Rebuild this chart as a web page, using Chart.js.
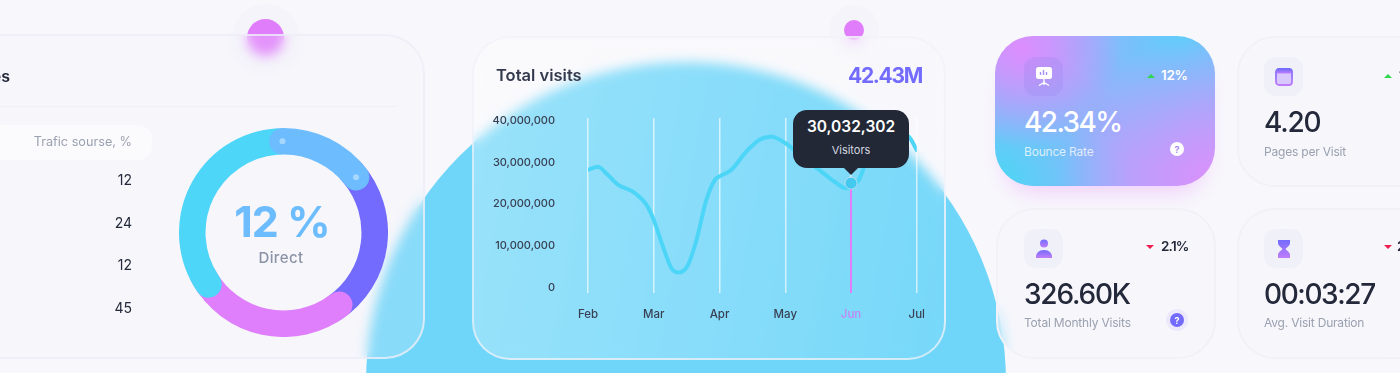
<!DOCTYPE html>
<html>
<head>
<meta charset="utf-8">
<title>Total visits</title>
<script src="https://cdn.jsdelivr.net/npm/chart.js"></script>
<style>
    * { box-sizing: border-box; }
    html, body { margin: 0; width: 1400px; height: 373px; overflow: hidden; background: #f8f8fc; font-family: Inter, sans-serif; color: #23283a; }
    .txt { position: absolute; white-space: nowrap; line-height: 1; }

    .blob { position: absolute; left: 366px; top: 62px; width: 640px; height: 640px; border-radius: 50%; background: #6fd6f9; }
    .halo { position: absolute; border-radius: 50%; background: rgba(235, 232, 248, .2); }
    .dot { position: absolute; border-radius: 50%; background: #e07dfb; }

    .glass { position: absolute; backdrop-filter: blur(6px); -webkit-backdrop-filter: blur(6px); }
    .card-left { left: -40px; top: 34px; width: 465px; height: 325px; border-radius: 40px; background: rgba(240, 240, 250, .2); border: 2px solid rgba(238, 238, 247, .8); }
    .card-main { left: 472px; top: 36px; width: 474px; height: 324px; border-radius: 38px; background: linear-gradient(100deg, rgba(255,255,255,.3), rgba(255,255,255,.06)); border: 2.5px solid rgba(240, 241, 248, .75); }
    .card-small { width: 220px; height: 151px; border-radius: 38px; background: rgba(243, 243, 250, .35); border: 2px solid #f1f1f8; }
    .card-bounce { position: absolute; left: 995px; top: 36px; width: 220px; height: 150px; border-radius: 38px; box-shadow: 0 16px 24px -12px rgba(224, 125, 251, .4);
        background:
            radial-gradient(circle at 12% 8%, #dc8dfd 0, rgba(220,141,253,0) 42%),
            radial-gradient(circle at 100% 100%, #dc90fc 0, rgba(220,144,252,0) 58%),
            radial-gradient(circle at 0 100%, #48d8f5 0, rgba(72,216,245,0) 52%),
            radial-gradient(circle at 85% 0, #5fcdfa 0, rgba(95,205,250,0) 55%),
            #9eacfb; }

    .divider { position: absolute; left: 0; top: 106px; width: 397px; height: 1px; background: #f0f0f7; }
    .pill { position: absolute; left: -30px; top: 125px; width: 182px; height: 35px; border-radius: 14px; background: rgba(255, 255, 255, .55); }

    .icon-box { position: absolute; width: 39px; height: 39px; border-radius: 12px; background: #f0f0f9; display: flex; align-items: center; justify-content: center; }
    .arrow { position: absolute; width: 0; height: 0; border-left: 4px solid transparent; border-right: 4px solid transparent; }
    .up { border-bottom: 4px solid #2fd84f; }
    .down { border-top: 4px solid #ee1f4e; }
    .help { position: absolute; border-radius: 50%; font-size: 9px; font-weight: 700; display: flex; align-items: center; justify-content: center; }
    .big { font-size: 28px; font-weight: 500; letter-spacing: -1.2px; }
    .small { font-size: 12px; letter-spacing: -.2px; color: #9aa1b0; }
    .pct { font-size: 13.5px; font-weight: 600; letter-spacing: -.3px; }

    canvas { position: absolute; }
    #tip { position: absolute; width: 116px; height: 58px; border-radius: 14px; background: #222836; color: #fff; text-align: center; }
    #tip:after { content: ''; position: absolute; left: 50%; bottom: -7px; margin-left: -7px; border-left: 7px solid transparent; border-right: 7px solid transparent; border-top: 7px solid #222836; }
    #tip b { display: block; margin-top: 8px; font-size: 15.5px; font-weight: 600; line-height: 18px; }
    #tip span { display: block; margin-top: 7px; font-size: 11px; font-weight: 400; color: #d5d8e0; line-height: 14px; }
</style>
</head>
<body>

<div class="blob"></div>
<div class="halo" style="left:232px;top:4px;width:68px;height:68px"></div>
<div class="dot" style="left:247px;top:19px;width:37px;height:37px"></div>
<div class="halo" style="left:829px;top:5px;width:50px;height:50px"></div>
<div class="dot" style="left:843.5px;top:20px;width:20px;height:20px"></div>

<div class="glass card-left"></div>
<div class="glass card-main"></div>

<!-- left card -->
<div class="txt" style="right:1390px;top:68px;font-size:16px;font-weight:600">Traffic sources</div>
<div class="divider"></div>
<div class="pill"></div>
<div class="txt" style="right:1268px;top:136px;font-size:12.7px;color:#9aa1b0">Trafic sourse, %</div>
<div id="sources"></div>
<canvas id="donut0" width="209" height="209" style="left:179px;top:128px"></canvas>
<canvas id="donut1" width="209" height="209" style="left:179px;top:128px"></canvas>
<canvas id="donut2" width="209" height="209" style="left:179px;top:128px"></canvas>
<canvas id="donut3" width="209" height="209" style="left:179px;top:128px"></canvas>
<div class="txt" style="left:177px;width:210px;top:200px;text-align:center;font-size:43px;font-weight:700;color:#6cbcfe;letter-spacing:-1px">12 %</div>
<div class="txt" style="left:176px;width:210px;top:250px;text-align:center;font-size:15px;font-weight:500;color:#8a93a5;letter-spacing:.4px">Direct</div>

<!-- main card -->
<div class="txt" style="left:496px;top:67px;font-size:16.5px;font-weight:600;color:#343a4e">Total visits</div>
<div class="txt" style="right:478px;top:65px;font-size:21px;font-weight:700;letter-spacing:-1.3px;color:#736bfd">42.43M</div>
<canvas id="line-chart" width="452" height="225" style="left:488px;top:105px"></canvas>
<div id="tip"><b>30,032,302</b><span>Visitors</span></div>

<!-- small cards -->
<div class="card-bounce"></div>
<div class="glass card-small" style="left:1237px;top:36px"></div>
<div class="glass card-small" style="left:996px;top:208px"></div>
<div class="glass card-small" style="left:1237px;top:208px"></div>

<div class="icon-box" style="left:1024px;top:57px;background:rgba(140,130,230,.22)">
    <svg width="18" height="22" viewBox="0 0 18 22"><rect x="1" y="1" width="16" height="12" rx="2.5" fill="#fff"/><path d="M5.5 9V6M8.5 9V4M11.5 9V6" stroke="#a58ff5" stroke-width="1.4"/><path d="M9 13v6M4 19.500l5-3 5 3" stroke="#fff" stroke-width="1.4" fill="none"/></svg>
</div>
<div class="arrow up" style="left:1146.500px;top:74px"></div>
<div class="txt pct" style="left:1161px;top:69px;color:#fff">12%</div>
<div class="txt big" style="left:1024px;top:108px;color:#fff;letter-spacing:-1.6px">42.34%</div>
<div class="txt small" style="left:1024px;top:146px;color:rgba(255,255,255,.75)">Bounce Rate</div>
<div class="help" style="left:1170px;top:142px;width:14px;height:14px;background:#fff;color:#a78af5">?</div>

<div class="icon-box" style="left:1264px;top:57px">
    <svg width="18" height="18" viewBox="0 0 18 18"><defs><linearGradient id="g1" x1="0" y1="0" x2="0" y2="1"><stop offset="0" stop-color="#736bfd"/><stop offset="1" stop-color="#c07dfb"/></linearGradient></defs><rect x="1" y="1" width="16" height="16" rx="3" fill="#d9c8fb" stroke="url(#g1)" stroke-width="1.800"/><rect x="1" y="1" width="16" height="4.500" rx="2" fill="url(#g1)"/></svg>
</div>
<div class="arrow up" style="left:1384px;top:74px"></div>
<div class="txt pct" style="left:1399px;top:69px">12%</div>
<div class="txt big" style="left:1264px;top:108px">4.20</div>
<div class="txt small" style="left:1264px;top:146px">Pages per Visit</div>

<div class="icon-box" style="left:1024px;top:229px">
    <svg width="18" height="20" viewBox="0 0 18 20"><defs><linearGradient id="g2" x1="0" y1="0" x2="0" y2="1"><stop offset="0" stop-color="#736bfd"/><stop offset="1" stop-color="#c07dfb"/></linearGradient></defs><circle cx="9" cy="4.500" r="4" fill="url(#g2)"/><path d="M1 19c-.5-5 3-8 8-8s8.500 3 8 8z" fill="url(#g2)"/></svg>
</div>
<div class="arrow down" style="left:1146px;top:245px"></div>
<div class="txt pct" style="left:1161px;top:240px;letter-spacing:-.8px">2.1%</div>
<div class="txt big" style="left:1024px;top:280px">326.60K</div>
<div class="txt small" style="left:1024px;top:317px">Total Monthly Visits</div>
<div class="help" style="left:1166px;top:309px;width:22px;height:22px;background:#ebe9fb"></div>
<div class="help" style="left:1170px;top:313px;width:14px;height:14px;background:#736bfd;color:#fff">?</div>

<div class="icon-box" style="left:1264px;top:229px">
    <svg width="14" height="20" viewBox="0 0 14 20"><defs><linearGradient id="g3" x1="0" y1="0" x2="0" y2="1"><stop offset="0" stop-color="#736bfd"/><stop offset="1" stop-color="#c07dfb"/></linearGradient></defs><path d="M1 1h12v3c0 3-3.500 4.500-4.500 6 1 1.500 4.500 3 4.500 6v3H1v-3c0-3 3.500-4.500 4.500-6C4.500 8.500 1 7 1 4z" fill="url(#g3)"/></svg>
</div>
<div class="arrow down" style="left:1384px;top:245px"></div>
<div class="txt pct" style="left:1397px;top:240px;letter-spacing:-.8px">2.1%</div>
<div class="txt big" style="left:1264px;top:280px;letter-spacing:-1.4px">00:03:27</div>
<div class="txt small" style="left:1264px;top:317px">Avg. Visit Duration</div>

<script>
// line chart
const months = ['Feb', 'Mar', 'Apr', 'May', 'Jun', 'Jul'];
const yTicks = [0, 10000000, 20000000, 30000000, 40000000];
const visitsX = [0, 0.15, 0.30, 0.46, 0.69, 0.89, 1.0, 1.14, 1.27, 1.385, 1.52, 1.65, 1.80, 1.93, 2.0, 2.18, 2.41, 2.61, 2.79, 3.0, 3.28, 3.58, 3.78, 3.92, 4.12, 4.25, 4.56, 4.87, 5];
const visitsY = [28.2, 28.9, 27.0, 24.6, 22.9, 19.8, 16.2, 9.8, 4.6, 3.6, 5.4, 11.4, 21.0, 25.8, 26.6, 28.2, 32.6, 35.4, 36.1, 34.6, 31.0, 27.4, 25.0, 23.8, 25.8, 31.0, 37.0, 36.2, 32.9];
const activeMonth = 4;
const activeValue = 25000000;
const axisMin = -1300000;
const axisMax = 40600000;

// donut, degrees clockwise from the top
const sourceValues = ['12', '24', '12', '45'];
const donutColors = ['#736bfd', '#df7ffb', '#4dd6f8', '#6cbcfe'];
const donutStart = [40, 134, 227, -9];
const donutSweep = [115, 116, 138, 70];


sourceValues.forEach((v, i) => {
    let el = document.createElement('div');
    el.className = 'txt';
    el.style.cssText = `right:1268px;top:${173.3 + i * 42.5}px;font-size:14px`;
    el.innerText = v;
    document.getElementById('sources').appendChild(el);
});


// little dots sitting on the caps of the direct segment
const capDots = {
    id: 'capDots',
    afterDatasetsDraw(chart) {
        if (chart.canvas.id !== 'donut3') return;
        let arc = chart.getDatasetMeta(0).data[0];
        let mid = (arc.innerRadius + arc.outerRadius) / 2;
        let cap = (arc.outerRadius - arc.innerRadius) / 2 / mid;
        let ctx = chart.ctx;
        ctx.fillStyle = 'rgba(255,255,255,.4)';
        [arc.startAngle + cap, arc.endAngle - cap].forEach(a => {
            ctx.beginPath();
            ctx.arc(arc.x + Math.cos(a) * mid, arc.y + Math.sin(a) * mid, 3, 0, Math.PI * 2);
            ctx.fill();
        });
    }
};

donutColors.forEach((color, i) => {
    new Chart(document.getElementById('donut' + i), {
        type: 'doughnut',
        data: {
            datasets: [{
                data: [donutSweep[i], 360 - donutSweep[i]],
                backgroundColor: [color, 'rgba(0,0,0,0)'],
                borderWidth: 0,
                borderRadius: [14, 0]
            }]
        },
        options: {
            responsive: false,
            animation: false,
            rotation: donutStart[i],
            cutout: '74.6%',
            plugins: { legend: { display: false }, tooltip: { enabled: false } }
        },
        plugins: [capDots]
    });
});


let visitsPoints = visitsX.map((x, i) => ({ x: x, y: visitsY[i] * 1000000 }));

let chart = new Chart(document.getElementById('line-chart'), {
    type: 'line',
    data: {
        datasets: [{
            data: [{ x: activeMonth, y: activeValue }],
            pointRadius: 6,
            pointBackgroundColor: '#43c9ef',
            pointBorderColor: 'rgba(220,225,235,.7)',
            pointBorderWidth: 1,
            showLine: false
        }, {
            data: [{ x: activeMonth, y: activeValue }, { x: activeMonth, y: axisMin }],
            borderColor: '#e07dfb',
            borderWidth: 2,
            pointRadius: 0
        }, {
            data: visitsPoints,
            borderColor: '#4dd5f7',
            borderWidth: 4,
            pointRadius: 0,
            cubicInterpolationMode: 'monotone',
            borderCapStyle: 'round'
        }]
    },
    options: {
        responsive: false,
        animation: false,
        layout: { padding: { top: 13 } },
        plugins: { legend: { display: false }, tooltip: { enabled: false } },
        scales: {
            x: {
                type: 'linear',
                min: 0,
                max: 5,
                afterFit: ax => { ax.height = 37; },
                border: { display: false },
                grid: { color: 'rgba(255,255,255,.65)', lineWidth: 1.5, drawTicks: false },
                ticks: {
                    stepSize: 1,
                    padding: 15,
                    maxRotation: 0,
                    color: ctx => ctx.index === activeMonth ? '#c684f5' : '#3a4054',
                    font: { family: 'Inter', size: 11.5, weight: '500' },
                    callback: v => months[v]
                }
            },
            y: {
                min: axisMin,
                max: axisMax,
                afterFit: ax => { ax.width = 100; },
                afterBuildTicks: ax => { ax.ticks = yTicks.map(v => ({ value: v })); },
                border: { display: false },
                grid: { display: false, drawTicks: true, tickLength: 33 },
                ticks: {
                    padding: 0,
                    color: '#3a4054',
                    font: { family: 'Inter', size: 11, weight: '500' },
                    callback: v => v.toLocaleString('en-US')
                }
            }
        }
    }
});


// tooltip box hangs over the active point
let tipBox = document.getElementById('tip');
let canvasBox = chart.canvas.getBoundingClientRect();
tipBox.style.left = (canvasBox.left + chart.scales.x.getPixelForValue(activeMonth) - 58) + 'px';
tipBox.style.top = (canvasBox.top + chart.scales.y.getPixelForValue(activeValue) - 73) + 'px';
</script>
</body>
</html>
